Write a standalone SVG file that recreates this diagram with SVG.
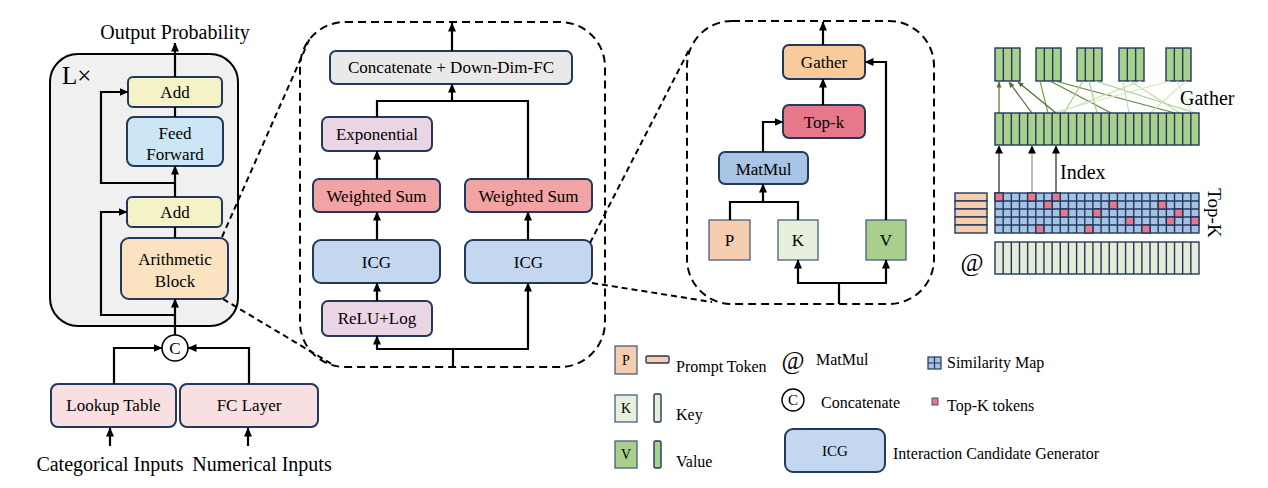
<svg xmlns="http://www.w3.org/2000/svg" width="1268" height="488" viewBox="0 0 1268 488">
<defs>
<marker id="ah" markerUnits="userSpaceOnUse" markerWidth="9" markerHeight="8" refX="8.5" refY="4" orient="auto"><path d="M0,0 L9,4 L0,8 z" fill="#000"/></marker>
<marker id="ahs" markerUnits="userSpaceOnUse" markerWidth="6" markerHeight="5" refX="5.5" refY="2.5" orient="auto"><path d="M0,0 L6,2.5 L0,5 z" fill="#4f6e30"/></marker>
<marker id="ahi" markerUnits="userSpaceOnUse" markerWidth="8" markerHeight="8" refX="7.5" refY="4" orient="auto"><path d="M0,0 L8,4 L0,8 z" fill="#000"/></marker>
<style>
text{font-family:"Liberation Serif","Times New Roman",serif;fill:#000}
.t17{font-size:17px;text-anchor:middle}
.t19{font-size:19px}
.t20{font-size:20px}
.t16{font-size:16px}
.box{stroke:#22385c;stroke-width:2}
.sq{stroke:#4a5e7e;stroke-width:1.3}
.ln{fill:none;stroke:#000;stroke-width:2.2}
.ar{fill:none;stroke:#000;stroke-width:2.2;marker-end:url(#ah)}
.dash{fill:none;stroke:#000;stroke-width:2;stroke-dasharray:8 5}
.grid{stroke:#22385c;stroke-width:1.4}
.gl{fill:none;stroke:#22385c;stroke-width:1.4}
.zl{stroke:#000;stroke-width:2;stroke-dasharray:6 4}
</style>
</defs>

<!-- Left panel -->
<g id="left-panel">
<text class="t20" x="175" y="39" text-anchor="middle">Output Probability</text>
<rect id="layer-stack" x="50" y="54" width="188" height="272" rx="28" fill="#f0f0f0" stroke="#000" stroke-width="2"/>
<text x="62" y="84" style="font-size:25px">L×</text>
</g>
<g id="add1"><rect class="box" x="128" y="77" width="94" height="30" rx="5" fill="#f4f2c6"/><text class="t17" x="175" y="98">Add</text></g>
<g id="feedforward"><rect class="box" x="127" y="117" width="96" height="49" rx="7" fill="#cce6f5"/><text class="t17" x="175" y="139">Feed</text><text class="t17" x="175" y="160">Forward</text></g>
<g id="add2"><rect class="box" x="127" y="197" width="95" height="30" rx="5" fill="#f4f2c6"/><text class="t17" x="175" y="218">Add</text></g>
<g id="arith"><rect class="box" x="121" y="238" width="107" height="61" rx="8" fill="#fbe3c2"/><text class="t17" x="175" y="265">Arithmetic</text><text class="t17" x="175" y="287">Block</text></g>
<g id="concat-op"><circle cx="175" cy="348" r="13" fill="#fff" stroke="#000" stroke-width="1.6"/><text class="t17" x="175" y="354">C</text></g>
<g id="lookup"><rect class="box" x="51" y="384" width="125" height="43" rx="7" fill="#f8dfe2"/><text class="t17" x="113.5" y="411">Lookup Table</text></g>
<g id="fclayer"><rect class="box" x="180" y="384" width="138" height="43" rx="7" fill="#f8dfe2"/><text class="t17" x="249" y="411">FC Layer</text></g>
<g id="inputs"><text class="t20" x="110" y="471" text-anchor="middle">Categorical Inputs</text><text class="t20" x="262" y="471" text-anchor="middle">Numerical Inputs</text></g>

<!-- Middle panel -->
<g id="mid-panel"><rect x="300" y="22" width="305" height="345" rx="45" class="dash"/></g>
<g id="concatfc"><rect class="box" x="330" y="51" width="242" height="33" rx="6" fill="#e9e9e9"/><text class="t17" x="451" y="73">Concatenate + Down-Dim-FC</text></g>
<g id="expo"><rect class="box" x="322" y="117" width="110" height="34" rx="6" fill="#e9d5e3"/><text class="t17" x="377" y="140">Exponential</text></g>
<g id="wsum-l"><rect class="box" x="313" y="179" width="127" height="33" rx="6" fill="#f2a3a3"/><text class="t17" x="376.5" y="202">Weighted Sum</text></g>
<g id="wsum-r"><rect class="box" x="465" y="179" width="127" height="33" rx="6" fill="#f2a3a3"/><text class="t17" x="528.5" y="202">Weighted Sum</text></g>
<g id="icg-l"><rect class="box" x="313" y="240" width="127" height="43" rx="8" fill="#c3d8ee"/><text class="t17" x="376.5" y="268">ICG</text></g>
<g id="icg-r"><rect class="box" x="465" y="240" width="127" height="43" rx="8" fill="#c3d8ee"/><text class="t17" x="528.5" y="268">ICG</text></g>
<g id="relulog"><rect class="box" x="322" y="301" width="110" height="35" rx="6" fill="#e9d5e3"/><text class="t17" x="377" y="324">ReLU+Log</text></g>

<!-- Right panel -->
<g id="right-panel"><rect x="687" y="21" width="247" height="283" rx="45" class="dash"/></g>
<g id="gather"><rect class="box" x="783" y="45" width="82" height="34" rx="6" fill="#f9cb9c"/><text class="t17" x="824" y="68">Gather</text></g>
<g id="topk"><rect class="box" x="783" y="105" width="82" height="33" rx="6" fill="#e6788a"/><text class="t17" x="824" y="128">Top-k</text></g>
<g id="matmul"><rect class="box" x="719" y="152" width="89" height="32" rx="6" fill="#a7c4e5"/><text class="t17" x="763.5" y="175">MatMul</text></g>
<g id="p"><rect class="sq" x="709" y="220" width="41" height="40" fill="#f7cdb0"/><text class="t17" x="729.5" y="246">P</text></g>
<g id="k"><rect class="sq" x="778" y="220" width="40" height="40" fill="#e6f0dc"/><text class="t17" x="798" y="246">K</text></g>
<g id="v"><rect class="sq" x="866" y="220" width="40" height="40" fill="#a8cf8c"/><text class="t17" x="886" y="246">V</text></g>

<!-- Connectors -->
<g id="connectors">
<line class="ar" x1="175" y1="77" x2="175" y2="43"/>
<line class="ln" x1="175" y1="107" x2="175" y2="117"/>
<line class="ar" x1="175" y1="197" x2="175" y2="166"/>
<line class="ln" x1="175" y1="238" x2="175" y2="227"/>
<polyline class="ar" points="175,183 101,183 101,92 128,92"/>
<polyline class="ar" points="175,315 101,315 101,212 127,212"/>
<line class="ar" x1="175" y1="335" x2="175" y2="299"/>
<polyline class="ar" points="114,384 114,348 162,348"/>
<polyline class="ar" points="249,384 249,348 188,348"/>
<line class="ar" x1="110" y1="446" x2="110" y2="428"/>
<line class="ar" x1="248" y1="446" x2="248" y2="428"/>

<line class="ar" x1="452" y1="51" x2="452" y2="23"/>
<polyline class="ln" points="377,117 377,101 528,101 528,179"/>
<line class="ar" x1="452" y1="101" x2="452" y2="84"/>
<line class="ar" x1="377" y1="179" x2="377" y2="151"/>
<line class="ar" x1="377" y1="240" x2="377" y2="212"/>
<line class="ar" x1="377" y1="301" x2="377" y2="283"/>
<line class="ar" x1="528" y1="240" x2="528" y2="212"/>
<line class="ln" x1="453" y1="366" x2="453" y2="349"/>
<line class="ln" x1="376" y1="349" x2="529" y2="349"/>
<line class="ar" x1="377" y1="349" x2="377" y2="336"/>
<line class="ar" x1="528" y1="349" x2="528" y2="283"/>

<line class="ar" x1="823" y1="45" x2="823" y2="22"/>
<line class="ar" x1="823" y1="105" x2="823" y2="79"/>
<polyline class="ar" points="763,152 763,122 783,122"/>
<polyline class="ln" points="730,220 730,202 798,202 798,220"/>
<line class="ar" x1="763" y1="202" x2="763" y2="184"/>
<polyline class="ar" points="886,220 886,62 865,62"/>
<line class="ln" x1="839" y1="304" x2="839" y2="283"/>
<line class="ln" x1="797" y1="283" x2="887" y2="283"/>
<line class="ar" x1="798" y1="283" x2="798" y2="260"/>
<line class="ar" x1="886" y1="283" x2="886" y2="260"/>

<line class="zl" x1="222" y1="237" x2="310" y2="38"/>
<line class="zl" x1="223" y1="299" x2="335" y2="366"/>
<line class="zl" x1="590" y1="243" x2="690" y2="48"/>
<line class="zl" x1="592" y1="283" x2="712" y2="302"/>
</g>

<!-- Right illustration -->
<g id="gather-illustration">
<g fill="#a9d18e" class="grid">
<rect x="995" y="48" width="25" height="33"/><rect x="1036" y="48" width="25" height="33"/><rect x="1077" y="48" width="25" height="33"/><rect x="1119" y="48" width="25" height="33"/><rect x="1166" y="48" width="25" height="33"/>
</g>
<path class="gl" d="M1003.33 48V81M1011.67 48V81M1044.33 48V81M1052.67 48V81M1085.33 48V81M1093.67 48V81M1127.33 48V81M1135.67 48V81M1174.33 48V81M1182.67 48V81"/>
<g stroke-width="1.2" fill="none">
<line x1="1040" y1="81" x2="1048" y2="113" stroke="#7a9a50"/>
<line x1="1050" y1="81" x2="1111" y2="113" stroke="#5f8040"/>
<line x1="1055" y1="81" x2="1175" y2="113" stroke="#5f8040"/>
<line x1="1083" y1="81" x2="1064" y2="113" stroke="#a9cc8a"/>
<line x1="1089" y1="81" x2="1097" y2="113" stroke="#a9cc8a"/>
<line x1="1095" y1="81" x2="1195" y2="113" stroke="#a9cc8a"/>
<line x1="1123" y1="81" x2="1129" y2="113" stroke="#bcdca4"/>
<line x1="1130" y1="81" x2="1180" y2="113" stroke="#bcdca4"/>
<line x1="1141" y1="81" x2="1058" y2="113" stroke="#c4e0ae"/>
<line x1="1170" y1="81" x2="1052" y2="113" stroke="#d2e8c2"/>
<line x1="1177" y1="81" x2="1192" y2="113" stroke="#d2e8c2"/>
<line x1="1186" y1="81" x2="1150" y2="113" stroke="#d2e8c2"/>
<line x1="999" y1="113" x2="999" y2="82" stroke="#4f6e30" marker-end="url(#ahs)"/>
<line x1="1032" y1="113" x2="1009" y2="82" stroke="#4f6e30" marker-end="url(#ahs)"/>
<line x1="1056" y1="113" x2="1018" y2="82" stroke="#4f6e30" marker-end="url(#ahs)"/>
</g>
<rect class="grid" x="995" y="113" width="204" height="32" fill="#a9d18e"/>
<path class="gl" d="M1003.16 113V145M1011.32 113V145M1019.48 113V145M1027.64 113V145M1035.8 113V145M1043.96 113V145M1052.12 113V145M1060.28 113V145M1068.44 113V145M1076.6 113V145M1084.76 113V145M1092.92 113V145M1101.08 113V145M1109.24 113V145M1117.4 113V145M1125.56 113V145M1133.72 113V145M1141.88 113V145M1150.04 113V145M1158.2 113V145M1166.36 113V145M1174.52 113V145M1182.68 113V145M1190.84 113V145"/>
<text class="t20" x="1180" y="105">Gather</text>
<line x1="999" y1="193" x2="999" y2="146" stroke="#333" stroke-width="1.3" marker-end="url(#ahi)"/>
<line x1="1032" y1="193" x2="1032" y2="146" stroke="#999" stroke-width="1.3" marker-end="url(#ahi)"/>
<line x1="1056" y1="193" x2="1056" y2="146" stroke="#333" stroke-width="1.3" marker-end="url(#ahi)"/>
<text class="t20" x="1060" y="179">Index</text>
<g class="grid" fill="#f7cdb0">
<rect x="955" y="193" width="32" height="8"/><rect x="955" y="201" width="32" height="8"/><rect x="955" y="209" width="32" height="8"/><rect x="955" y="217" width="32" height="8"/><rect x="955" y="225" width="32" height="8"/>
</g>
<rect class="grid" x="995" y="193" width="204" height="40" fill="#a4c2e4"/>
<path class="gl" d="M1003.16 193V233M1011.32 193V233M1019.48 193V233M1027.64 193V233M1035.8 193V233M1043.96 193V233M1052.12 193V233M1060.28 193V233M1068.44 193V233M1076.6 193V233M1084.76 193V233M1092.92 193V233M1101.08 193V233M1109.24 193V233M1117.4 193V233M1125.56 193V233M1133.72 193V233M1141.88 193V233M1150.04 193V233M1158.2 193V233M1166.36 193V233M1174.52 193V233M1182.68 193V233M1190.84 193V233M995 201H1199M995 209H1199M995 217H1199M995 225H1199"/>
<g class="grid" fill="#e6788a">
<rect x="995" y="193" width="8.16" height="8"/><rect x="1027.64" y="193" width="8.16" height="8"/><rect x="1052.12" y="193" width="8.16" height="8"/>
<rect x="1043.96" y="201" width="8.16" height="8"/><rect x="1109.24" y="201" width="8.16" height="8"/><rect x="1158.2" y="201" width="8.16" height="8"/>
<rect x="1060.28" y="209" width="8.16" height="8"/><rect x="1092.92" y="209" width="8.16" height="8"/><rect x="1174.52" y="209" width="8.16" height="8"/>
<rect x="1125.56" y="217" width="8.16" height="8"/><rect x="1166.36" y="217" width="8.16" height="8"/><rect x="1190.84" y="217" width="8.16" height="8"/>
<rect x="1035.8" y="225" width="8.16" height="8"/><rect x="1084.76" y="225" width="8.16" height="8"/><rect x="1141.88" y="225" width="8.16" height="8"/>
</g>
<rect class="grid" x="995" y="242" width="204" height="32" fill="#e3edd8"/>
<path class="gl" d="M1003.16 242V274M1011.32 242V274M1019.48 242V274M1027.64 242V274M1035.8 242V274M1043.96 242V274M1052.12 242V274M1060.28 242V274M1068.44 242V274M1076.6 242V274M1084.76 242V274M1092.92 242V274M1101.08 242V274M1109.24 242V274M1117.4 242V274M1125.56 242V274M1133.72 242V274M1141.88 242V274M1150.04 242V274M1158.2 242V274M1166.36 242V274M1174.52 242V274M1182.68 242V274M1190.84 242V274"/>
<text x="972" y="271" style="font-size:25px" text-anchor="middle">@</text>
<text class="t19" transform="translate(1208,213) rotate(90)" text-anchor="middle">Top-K</text>
</g>

<!-- Legend -->
<g id="legend">
<rect class="sq" x="615" y="346" width="22" height="28" fill="#f7cdb0"/><text x="626" y="365" style="font-size:14px" text-anchor="middle">P</text>
<rect class="grid" x="646" y="356" width="23" height="7" rx="1.5" fill="#f7cdb0"/>
<text class="t16" x="676" y="372">Prompt Token</text>
<rect class="sq" x="615" y="395" width="22" height="27" fill="#e6f0dc"/><text x="626" y="413" style="font-size:14px" text-anchor="middle">K</text>
<rect class="grid" x="654" y="394" width="7" height="28" rx="1.5" fill="#e3edd8"/>
<text class="t16" x="676" y="420">Key</text>
<rect class="sq" x="615" y="441" width="22" height="27" fill="#a8cf8c"/><text x="626" y="459" style="font-size:14px" text-anchor="middle">V</text>
<rect class="grid" x="654" y="441" width="7" height="27" rx="1.5" fill="#a9d18e"/>
<text class="t16" x="676" y="467">Value</text>
<text x="793" y="369" style="font-size:25px" text-anchor="middle">@</text>
<text class="t16" x="816" y="365">MatMul</text>
<circle cx="793" cy="400" r="11" fill="#fff" stroke="#000" stroke-width="1.4"/><text x="793" y="405" style="font-size:15px" text-anchor="middle">C</text>
<text class="t16" x="821" y="408">Concatenate</text>
<rect class="box" x="785" y="429" width="100" height="43" rx="8" fill="#c3d8ee"/><text x="835" y="456" style="font-size:15px" text-anchor="middle">ICG</text>
<text class="t16" x="893" y="459">Interaction Candidate Generator</text>
<rect x="928" y="357" width="13" height="12" fill="#a4c2e4" stroke="#22385c" stroke-width="1.2"/>
<path d="M934.5 357V369M928 363H941" stroke="#22385c" stroke-width="1.2"/>
<text class="t16" x="947" y="368">Similarity Map</text>
<rect x="932" y="398" width="6" height="7" fill="#e6788a" stroke="#22385c" stroke-width="0.8"/>
<text class="t16" x="947" y="411">Top-K tokens</text>
</g>
</svg>
